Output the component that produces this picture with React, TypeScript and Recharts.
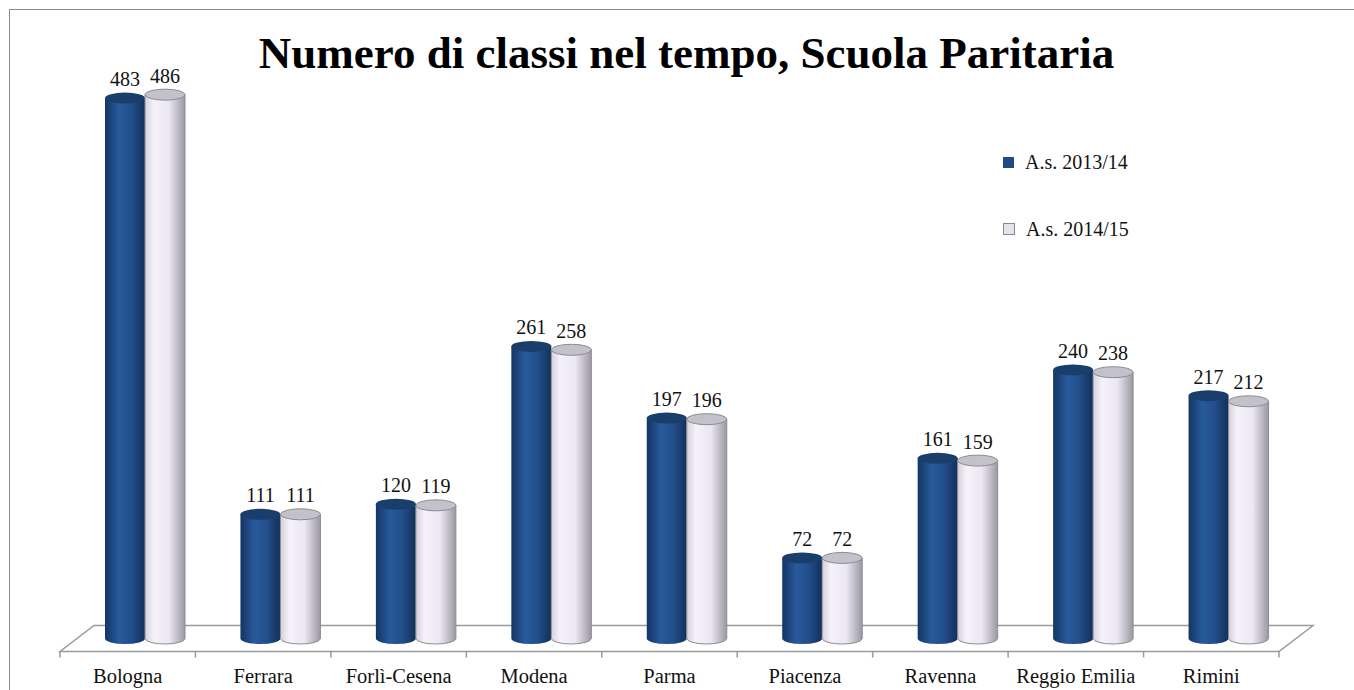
import { BarChart, Bar, XAxis, YAxis, Legend, LabelList } from "recharts";

const provinces = [
    "Bologna",
    "Ferrara",
    "Forlì-Cesena",
    "Modena",
    "Parma",
    "Piacenza",
    "Ravenna",
    "Reggio Emilia",
    "Rimini",
];
const classi2013 = [483, 111, 120, 261, 197, 72, 161, 240, 217];
const classi2014 = [486, 111, 119, 258, 196, 72, 159, 238, 212];
const seriesNames = ["A.s. 2013/14", "A.s. 2014/15"];

const data = provinces.map((name, i) => ({
    name,
    a2013: classi2013[i],
    a2014: classi2014[i],
}));

// layout (inside the bordered box)
const W = 1344;
const H = 680;
const LEFT = 67;
const RIGHT = 58;
const TOP = 69;
const AXIS_H = 51.5;
const DEPTH_X = 34;
const DEPTH_Y = 26;
const FONT = "'Liberation Serif', 'Times New Roman', serif";

const Cylinder = (props: any) => {
    const { x, y, width, height, dark } = props;
    const rx = width / 2;
    const ry = 5.5;
    const body = `M${x},${y} L${x},${y + height} A${rx},${ry} 0 0 0 ${x + width},${y + height} L${x + width},${y} Z`;
    if (dark) {
        return (
            <g>
                <path d={body} fill="url(#darkBody)" />
                <ellipse cx={x + rx} cy={y} rx={rx} ry={ry} fill="#1a3e6c" />
            </g>
        );
    }
    return (
        <g>
            <path d={body} fill="url(#lightBody)" stroke="#8c8c90" strokeWidth={1} />
            <ellipse cx={x + rx} cy={y} rx={rx} ry={ry} fill="#c3c2ca" stroke="#8c8c90" strokeWidth={1} />
        </g>
    );
};

const ProvinceTick = (props: any) => {
    const { x, y, payload } = props;
    return (
        <text x={x - DEPTH_X / 2} y={y + 36.5} textAnchor="middle" fontSize={20.5} fontFamily={FONT} fill="#111">
            {payload.value}
        </text>
    );
};

const LegendBox = () => (
    <div style={{ fontFamily: FONT, fontSize: 20, color: "#111" }}>
        {seriesNames.map((s, i) => (
            <div key={s} style={{ display: "flex", alignItems: "center", height: 20, marginBottom: 47 }}>
                <span
                    style={{
                        width: i === 0 ? 11 : 10,
                        height: i === 0 ? 11 : 10,
                        background: i === 0 ? "#1f4a85" : "#e6e3ef",
                        border: i === 0 ? "none" : "1px solid #888",
                        marginRight: 11,
                        display: "inline-block",
                    }}
                />
                <span>{s}</span>
            </div>
        ))}
    </div>
);

// 3D floor under the cylinders
const Floor = () => {
    const plotW = W - LEFT - RIGHT;
    const baseY = H - AXIS_H;
    const fx0 = LEFT - DEPTH_X / 2;
    const fx1 = fx0 + plotW;
    const fy = baseY + DEPTH_Y / 2;
    const step = plotW / provinces.length;
    return (
        <svg width={W} height={H} style={{ position: "absolute", left: 0, top: 0 }}>
            <polygon
                points={`${fx0},${fy} ${fx1},${fy} ${fx1 + DEPTH_X},${fy - DEPTH_Y} ${fx0 + DEPTH_X},${fy - DEPTH_Y}`}
                fill="none"
                stroke="#9a9a9a"
                strokeWidth={1.5}
            />
            {Array.from({ length: provinces.length + 1 }, (_, i) => (
                <line key={i} x1={fx0 + i * step} x2={fx0 + i * step} y1={fy} y2={fy + 6} stroke="#9a9a9a" strokeWidth={1.5} />
            ))}
            <text x={676.5} y={58} textAnchor="middle" fontSize={45} fontWeight="bold" fontFamily={FONT} fill="#000">
                Numero di classi nel tempo, Scuola Paritaria
            </text>
        </svg>
    );
};

export default function App() {
    return (
        <div
            style={{
                position: "absolute",
                left: 9,
                top: 9,
                width: W,
                height: H,
                borderTop: "1px solid #8a8a8a",
                borderLeft: "1px solid #8a8a8a",
                background: "#fff",
            }}
        >
            <Floor />
            <div style={{ position: "absolute", left: 0, top: 0 }}>
                <BarChart
                    width={W}
                    height={H}
                    data={data}
                    margin={{ top: TOP, right: RIGHT, left: LEFT, bottom: 0 }}
                    barGap={0}
                    barSize={40}
                >
                    <defs>
                        <linearGradient id="darkBody" x1="0" y1="0" x2="1" y2="0">
                            <stop offset="0%" stopColor="#143564" />
                            <stop offset="35%" stopColor="#285a9b" />
                            <stop offset="65%" stopColor="#234f8c" />
                            <stop offset="100%" stopColor="#12305a" />
                        </linearGradient>
                        <linearGradient id="lightBody" x1="0" y1="0" x2="1" y2="0">
                            <stop offset="0%" stopColor="#d4d1dc" />
                            <stop offset="22%" stopColor="#f5f2fb" />
                            <stop offset="60%" stopColor="#ebe7f3" />
                            <stop offset="100%" stopColor="#9b98a3" />
                        </linearGradient>
                    </defs>
                    <XAxis
                        dataKey="name"
                        height={AXIS_H}
                        axisLine={false}
                        tickLine={false}
                        interval={0}
                        tick={<ProvinceTick />}
                    />
                    <YAxis hide domain={[0, 500]} />
                    <Legend
                        layout="horizontal"
                        verticalAlign="middle"
                        align="center"
                        content={<LegendBox />}
                        wrapperStyle={{ top: 142, left: 993, width: 200, right: "auto", bottom: "auto" }}
                    />
                    <Bar
                        dataKey="a2013"
                        name={seriesNames[0]}
                        fill="#1f4a85"
                        isAnimationActive={false}
                        shape={(p: any) => <Cylinder {...p} dark />}
                    >
                        <LabelList dataKey="a2013" position="top" offset={12} fontSize={20} fontFamily={FONT} fill="#111" />
                    </Bar>
                    <Bar
                        dataKey="a2014"
                        name={seriesNames[1]}
                        fill="#e6e3ef"
                        isAnimationActive={false}
                        shape={(p: any) => <Cylinder {...p} />}
                    >
                        <LabelList dataKey="a2014" position="top" offset={12} fontSize={20} fontFamily={FONT} fill="#111" />
                    </Bar>
                </BarChart>
            </div>
        </div>
    );
}
